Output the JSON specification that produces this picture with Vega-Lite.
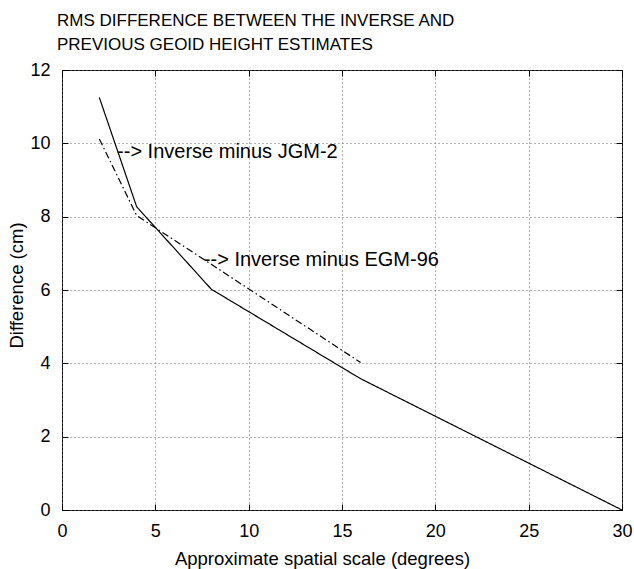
{
  "$schema": "https://vega.github.io/schema/vega-lite/v6.json",
  "autosize": "none",
  "width": 560,
  "height": 440,
  "padding": {"left": 62, "top": 70, "right": 12, "bottom": 59},
  "background": "white",
  "config": {
    "font": "Liberation Sans",
    "view": {"stroke": "black", "strokeWidth": 1},
    "axis": {
      "labelFont": "Liberation Sans",
      "titleFont": "Liberation Sans",
      "labelFontSize": 18,
      "titleFontSize": 18.5,
      "titleFontWeight": "normal",
      "labelColor": "black",
      "titleColor": "black",
      "domain": false,
      "tickColor": "black",
      "tickSize": -6,
      "tickWidth": 1,
      "gridColor": "#666",
      "gridDash": [1, 3],
      "gridOpacity": 1
    }
  },
  "title": {
    "text": ["RMS DIFFERENCE BETWEEN THE INVERSE AND", "PREVIOUS GEOID HEIGHT ESTIMATES"],
    "anchor": "start",
    "frame": "group",
    "fontSize": 17,
    "fontWeight": "normal",
    "font": "Liberation Sans",
    "color": "black",
    "lineHeight": 24,
    "dx": -5,
    "offset": 7,
    "baseline": "top"
  },
  "datasets": {
    "lines": [
      {"series": "Inverse minus JGM-2", "scale": 2, "diff": 11.25},
      {"series": "Inverse minus JGM-2", "scale": 4, "diff": 8.27},
      {"series": "Inverse minus JGM-2", "scale": 8, "diff": 6.02},
      {"series": "Inverse minus JGM-2", "scale": 16, "diff": 3.58},
      {"series": "Inverse minus JGM-2", "scale": 30, "diff": 0},
      {"series": "Inverse minus EGM-96", "scale": 2, "diff": 10.12},
      {"series": "Inverse minus EGM-96", "scale": 4, "diff": 8.03},
      {"series": "Inverse minus EGM-96", "scale": 8, "diff": 6.7},
      {"series": "Inverse minus EGM-96", "scale": 16, "diff": 4.02}
    ],
    "labels": [
      {"label": "--> Inverse minus JGM-2", "scale": 2.95, "diff": 9.76},
      {"label": "--> Inverse minus EGM-96", "scale": 7.6, "diff": 6.82}
    ]
  },
  "layer": [
    {
      "data": {"name": "lines"},
      "mark": {"type": "line", "color": "black", "strokeWidth": 1.2},
      "encoding": {
        "x": {
          "field": "scale", "type": "quantitative",
          "scale": {"domain": [0, 30], "nice": false},
          "axis": {"values": [0, 5, 10, 15, 20, 25, 30], "title": "Approximate spatial scale (degrees)", "labelPadding": 18, "titlePadding": 9, "titleX": 260, "labelFlush": false}
        },
        "y": {
          "field": "diff", "type": "quantitative",
          "scale": {"domain": [0, 12], "nice": false},
          "axis": {"values": [0, 2, 4, 6, 8, 10, 12], "title": "Difference (cm)", "labelPadding": 18, "titlePadding": 3, "titleY": 215, "labelFlush": false}
        },
        "detail": {"field": "series"},
        "strokeDash": {
          "field": "series", "type": "nominal",
          "scale": {"domain": ["Inverse minus JGM-2", "Inverse minus EGM-96"], "range": [[1, 0], [7, 3, 1.5, 3]]},
          "legend": null
        }
      }
    },
    {
      "data": {"name": "lines"},
      "mark": {"type": "point", "opacity": 0},
      "encoding": {
        "x": {"field": "scale", "type": "quantitative", "axis": {"orient": "top", "values": [0, 5, 10, 15, 20, 25, 30], "labels": false, "grid": false, "title": null}},
        "y": {"field": "diff", "type": "quantitative", "axis": {"orient": "right", "values": [0, 2, 4, 6, 8, 10, 12], "labels": false, "grid": false, "title": null}}
      }
    },
    {
      "data": {"name": "labels"},
      "mark": {"type": "text", "align": "left", "baseline": "middle", "fontSize": 20, "font": "Liberation Sans", "color": "black"},
      "encoding": {
        "x": {"field": "scale", "type": "quantitative", "axis": null},
        "y": {"field": "diff", "type": "quantitative", "axis": null},
        "text": {"field": "label"}
      }
    }
  ],
  "resolve": {"axis": {"x": "independent", "y": "independent"}}
}
